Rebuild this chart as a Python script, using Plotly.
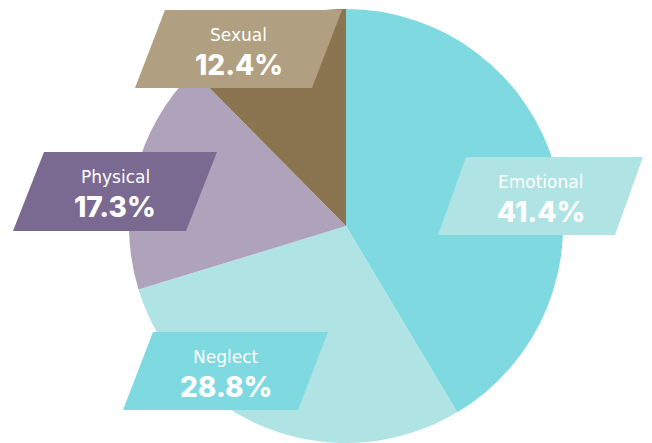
import plotly.graph_objects as go

categories = ["Emotional", "Neglect", "Physical", "Sexual"]
values = [41.4, 28.8, 17.3, 12.4]
slice_colors = ["#7fd9e0", "#b0e3e4", "#afa3bb", "#8a7550"]
box_colors = ["#b0e3e4", "#7fd9e0", "#7a6991", "#b09f80"]
value_labels = ["41.4%", "28.8%", "17.3%", "12.4%"]

W, H = 652, 443
TOP = 9  # top margin in px
PH = H - TOP

# label box geometry in pixels: (top-left x, top y, width, height, slant)
boxes = {
    "Emotional": (466, 157, 177, 78, 28),
    "Neglect": (153, 332, 175, 78, 30),
    "Physical": (44, 152, 173, 79, 31),
    "Sexual": (165, 10, 177, 78, 30),
}

def px(x):
    return x / W

def py(y):
    return 1 - (y - TOP) / PH

fig = go.Figure()
fig.add_trace(go.Pie(
    labels=categories,
    values=values,
    marker=dict(colors=slice_colors, line=dict(width=0)),
    sort=False,
    direction="clockwise",
    rotation=0,
    textinfo="none",
    hoverinfo="label+percent",
    showlegend=False,
    domain=dict(x=[px(128), px(564)], y=[0, 1]),
))

shapes = []
annotations = []
for cat, bc, vl in zip(categories, box_colors, value_labels):
    x0, y0, w, h, s = boxes[cat]
    pts = [(x0, y0), (x0 + w, y0), (x0 + w - s, y0 + h), (x0 - s, y0 + h)]
    path = "M " + " L ".join(f"{px(a):.5f},{py(b):.5f}" for a, b in pts) + " Z"
    shapes.append(dict(type="path", path=path, xref="paper", yref="paper",
                       fillcolor=bc, line=dict(width=0), layer="above"))
    cx = x0 + (w - s) / 2
    annotations.append(dict(x=px(cx), y=py(y0 + 25), xref="paper", yref="paper",
                            text=cat, showarrow=False,
                            font=dict(family="DejaVu Sans", size=17, color="white", weight=400),
                            xanchor="center", yanchor="middle"))
    annotations.append(dict(x=px(cx), y=py(y0 + 55), xref="paper", yref="paper",
                            text=vl, showarrow=False,
                            font=dict(family="Inter", size=28, color="white", weight=800),
                            xanchor="center", yanchor="middle"))

fig.update_layout(
    width=W, height=H,
    margin=dict(l=0, r=0, t=TOP, b=0),
    paper_bgcolor="white",
    plot_bgcolor="white",
    shapes=shapes,
    annotations=annotations,
)

fig.write_html("out.html", config={"displayModeBar": False},
               post_script="document.body.style.margin='0';")
